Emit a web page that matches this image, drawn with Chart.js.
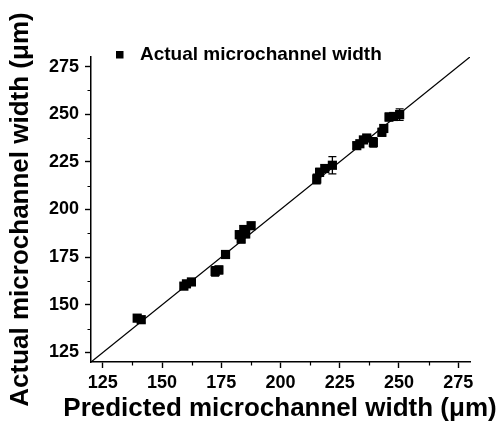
<!DOCTYPE html>
<html>
<head>
<meta charset="utf-8">
<script src="https://cdn.jsdelivr.net/npm/chart.js@4"></script>
<style>
  html, body { margin: 0; padding: 0; background: #fff; }
  #wrap { width: 502px; height: 426px; }
</style>
</head>
<body>
<div id="wrap"><canvas id="c" width="502" height="426"></canvas></div>
<script>
// ---- data ----
const seriesLabel = "Actual microchannel width";
const xTitle = "Predicted microchannel width (\u03bcm)";
const yTitle = "Actual microchannel width (\u03bcm)";
const predicted = [139.5, 141.2, 159.2, 160.3, 162.4, 172.4, 174.0, 176.8, 182.6, 183.4, 184.5, 185.3, 187.6, 215.3, 216.5, 218.7, 221.9, 232.2, 233.5, 235.0, 236.4, 239.2, 242.8, 243.6, 245.8, 247.8, 250.3];
const actual    = [143.0, 142.2, 159.8, 161.0, 162.0, 167.5, 168.3, 176.4, 186.8, 184.5, 189.5, 187.2, 191.5, 216.0, 219.5, 221.5, 223.2, 233.5, 234.5, 236.5, 237.5, 235.2, 240.5, 242.5, 248.5, 248.8, 249.8];
const actualErr = [1.5, 1.5, 1.5, 1.5, 1.5, 2.5, 2.0, 1.5, 2.0, 2.0, 2.0, 2.0, 1.5, 2.5, 2.0, 2.0, 4.5, 1.5, 1.5, 1.5, 1.5, 2.5, 2.0, 2.0, 2.0, 2.0, 3.0];
const fitX = [120, 280];
const fitY = [120, 280];
const xTicks = [125, 150, 175, 200, 225, 250, 275];
const yTicks = [125, 150, 175, 200, 225, 250, 275];
const axisMin = 120, axisMax = 280;

const FONT = "'Liberation Sans', Arial, sans-serif";

const points = predicted.map((v, i) => ({ x: v, y: actual[i], err: actualErr[i] }));
const fitLine = fitX.map((v, i) => ({ x: v, y: fitY[i] }));

const errorBars = {
  id: 'errorBars',
  afterDatasetsDraw(chart) {
    const ctx = chart.ctx, xs = chart.scales.x, ys = chart.scales.y;
    ctx.save();
    ctx.strokeStyle = '#000';
    ctx.lineWidth = 1.3;
    points.forEach(p => {
      const px = xs.getPixelForValue(p.x);
      const y1 = ys.getPixelForValue(p.y - p.err);
      const y2 = ys.getPixelForValue(p.y + p.err);
      ctx.beginPath();
      ctx.moveTo(px, y1); ctx.lineTo(px, y2);
      ctx.moveTo(px - 4, y1); ctx.lineTo(px + 4, y1);
      ctx.moveTo(px - 4, y2); ctx.lineTo(px + 4, y2);
      ctx.stroke();
    });
    ctx.restore();
  }
};

const minorTicks = {
  id: 'minorTicks',
  afterDraw(chart) {
    const ctx = chart.ctx, xs = chart.scales.x, ys = chart.scales.y, a = chart.chartArea;
    ctx.save();
    ctx.strokeStyle = '#000';
    ctx.lineWidth = 1.2;
    ctx.beginPath();
    xTicks.forEach(v => {
      [v - 12.5, v + 12.5].forEach(m => {
        if (m > axisMin && m < axisMax && !xTicks.includes(m)) {
          const px = Math.round(xs.getPixelForValue(m)) + 0.5;
          ctx.moveTo(px, a.bottom); ctx.lineTo(px, a.bottom + 3.5);
        }
      });
    });
    yTicks.forEach(v => {
      [v - 12.5, v + 12.5].forEach(m => {
        if (m > axisMin && m < axisMax && !yTicks.includes(m)) {
          const py = Math.round(ys.getPixelForValue(m)) + 0.5;
          ctx.moveTo(a.left, py); ctx.lineTo(a.left - 3.5, py);
        }
      });
    });
    ctx.stroke();
    ctx.restore();
  }
};

const textExtras = {
  id: 'textExtras',
  afterDraw(chart) {
    const ctx = chart.ctx;
    const label = chart.data.datasets[0].label;
    ctx.save();
    ctx.fillStyle = '#000';
    // legend
    ctx.fillRect(116, 51, 7.5, 7.5);
    ctx.font = "bold 19px " + FONT;
    ctx.textBaseline = 'middle';
    ctx.textAlign = 'left';
    ctx.fillText(label, 140, 55);
    // x axis title (wider than the plot, so drawn without width limit)
    ctx.font = "bold 26px " + FONT;
    ctx.textAlign = 'center';
    ctx.textBaseline = 'middle';
    ctx.fillText(xTitle, 280, 409);
    ctx.restore();
  }
};

const axisCommon = (ticksList) => ({
  type: 'linear',
  min: axisMin,
  max: axisMax,
  afterBuildTicks: s => { s.ticks = ticksList.map(v => ({ value: v })); },
  border: { display: true, color: '#000', width: 1.5 },
  grid: { display: true, drawOnChartArea: false, drawTicks: true, tickLength: 6, tickColor: '#000', tickWidth: 1.4 },
  ticks: { color: '#000', font: { family: FONT, size: 18, weight: 'bold' }, maxRotation: 0, autoSkip: false }
});

const xOpts = axisCommon(xTicks);
xOpts.ticks.padding = 4;
xOpts.title = { display: false };
xOpts.afterFit = s => { s.height = 64; };

const yOpts = axisCommon(yTicks);
yOpts.ticks.padding = 6;
yOpts.title = { display: true, text: yTitle, color: '#000', font: { family: FONT, size: 26, weight: 'bold' }, padding: { top: 5, bottom: 0 } };
yOpts.afterFit = s => { s.width = 91; };

new Chart(document.getElementById('c'), {
  type: 'scatter',
  data: {
    datasets: [
      {
        label: seriesLabel,
        data: points,
        pointStyle: 'rect',
        pointRadius: 6.5,
        pointHoverRadius: 6.5,
        backgroundColor: '#000',
        borderColor: '#000',
        borderWidth: 0,
        order: 1
      },
      {
        type: 'line',
        label: 'fit',
        data: fitLine,
        borderColor: '#000',
        borderWidth: 1.3,
        pointRadius: 0,
        fill: false,
        order: 2
      }
    ]
  },
  options: {
    responsive: false,
    animation: false,
    events: [],
    layout: { padding: { top: 57, right: 32, left: 0, bottom: 0 } },
    plugins: { legend: { display: false }, tooltip: { enabled: false } },
    scales: { x: xOpts, y: yOpts }
  },
  plugins: [errorBars, minorTicks, textExtras]
});
</script>
</body>
</html>
